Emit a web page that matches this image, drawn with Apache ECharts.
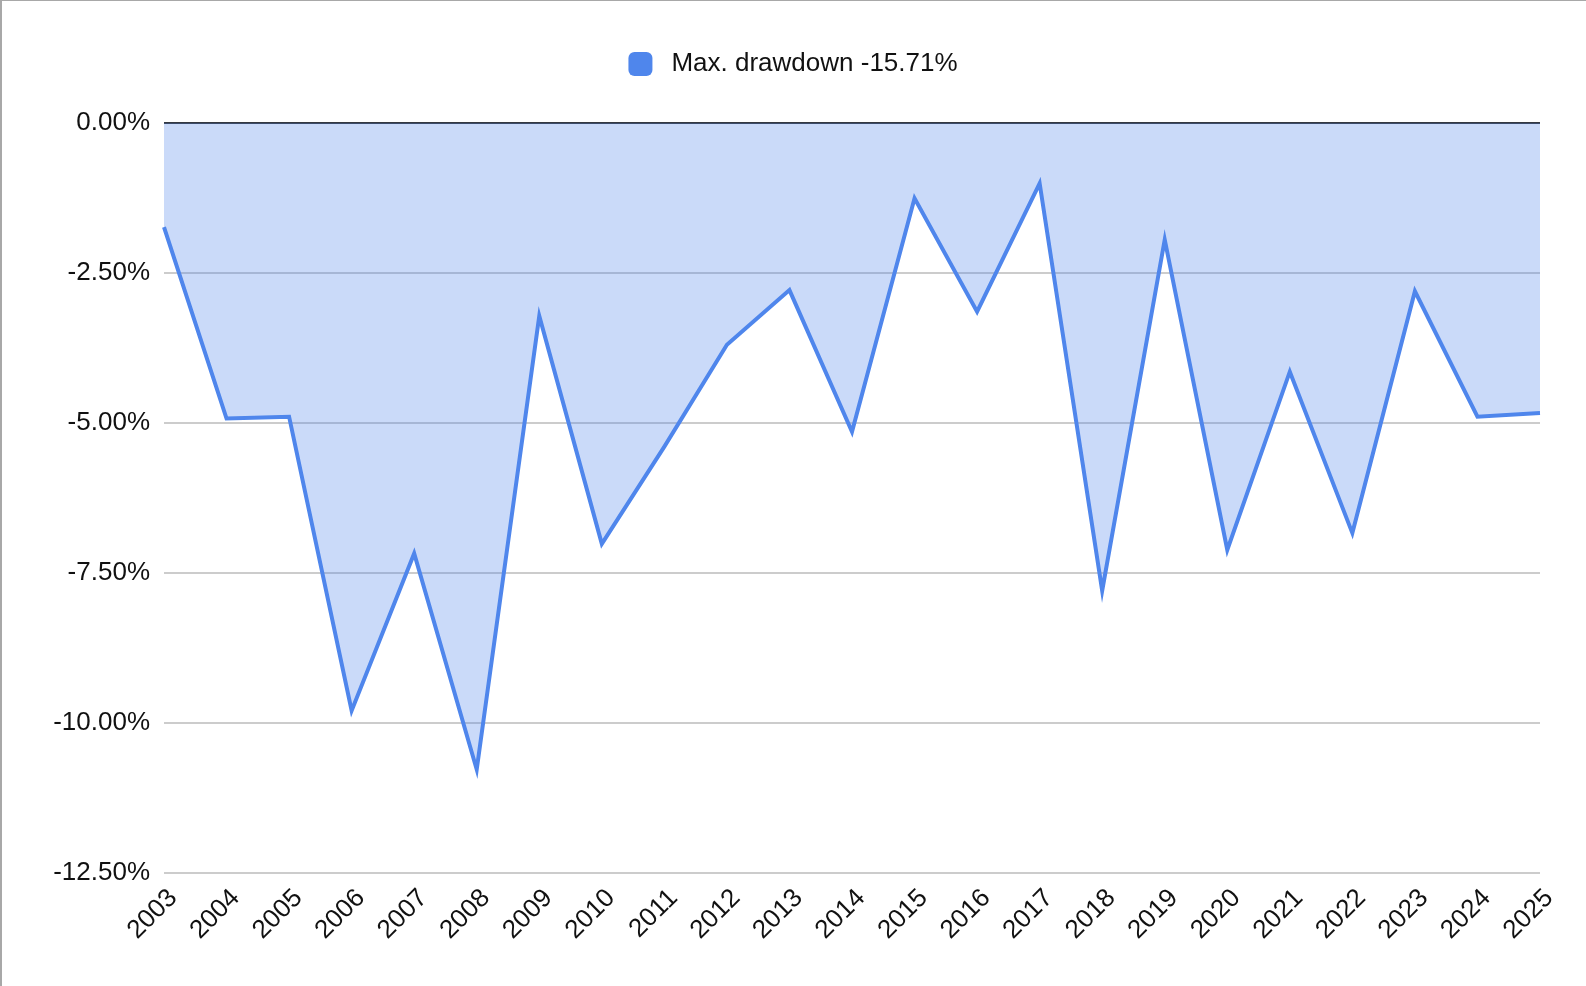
<!DOCTYPE html>
<html>
<head>
<meta charset="utf-8">
<script src="https://cdn.jsdelivr.net/npm/echarts@6/dist/echarts.min.js"></script>
<style>
  html, body { margin: 0; padding: 0; background: #fff; }
  #frame { position: absolute; left: 0; top: 0; width: 1586px; height: 986px; box-sizing: border-box; border-left: 2px solid #a8a8a8; border-top: 1px solid #a8a8a8; }
  #chart { position: absolute; left: 0; top: 0; width: 1586px; height: 986px; }
</style>
</head>
<body>
<div id="frame"></div>
<div id="chart"></div>
<script>
const years = ['2003','2004','2005','2006','2007','2008','2009','2010','2011','2012','2013','2014','2015','2016','2017','2018','2019','2020','2021','2022','2023','2024','2025'];
const drawdown = [-1.74,-4.93,-4.90,-9.80,-7.18,-10.78,-3.22,-7.02,-5.40,-3.70,-2.79,-5.15,-1.26,-3.15,-1.01,-7.80,-1.95,-7.12,-4.15,-6.84,-2.81,-4.90,-4.84];
const seriesName = 'Max. drawdown -15.71%';
const yTicks = { min: -12.5, max: 0, interval: 2.5 };

const chart = echarts.init(document.getElementById('chart'), null, { renderer: 'canvas' });
const font = 'Liberation Sans, Arial, Helvetica, sans-serif';
const blue = '#4f86ec';
const ink = '#111111';
chart.setOption({
  animation: false,
  backgroundColor: 'transparent',
  textStyle: { fontFamily: font },
  legend: {
    top: 46,
    left: 'center',
    icon: 'roundRect',
    itemWidth: 24,
    itemHeight: 24,
    textStyle: { fontSize: 26, color: ink, fontFamily: font, padding: [0, 0, 0, 14] },
    data: [{ name: seriesName, itemStyle: { color: blue } }]
  },
  grid: { left: 164, right: 46, top: 122.7, bottom: 113.3, containLabel: false },
  xAxis: {
    type: 'category',
    data: years,
    boundaryGap: false,
    axisLine: { show: false },
    axisTick: { show: false },
    splitLine: { show: false },
    axisLabel: { rotate: 45, fontSize: 26, color: ink, margin: 12, fontFamily: font, interval: 0, verticalAlign: 'top' }
  },
  yAxis: {
    type: 'value',
    min: yTicks.min,
    max: yTicks.max,
    interval: yTicks.interval,
    axisLine: { show: false },
    axisTick: { show: false },
    axisLabel: {
      fontSize: 26, color: ink, margin: 14, fontFamily: font,
      formatter: v => v.toFixed(2) + '%'
    },
    splitLine: {
      show: true,
      lineStyle: { color: ['#cccccc','#cccccc','#cccccc','#cccccc','#cccccc','#333333'], width: 2 }
    }
  },
  series: [{
    name: seriesName,
    type: 'line',
    data: drawdown,
    symbol: 'none',
    lineStyle: { color: blue, width: 4, join: 'miter' },
    itemStyle: { color: blue },
    areaStyle: { color: blue, opacity: 0.3 }
  }]
});
</script>
</body>
</html>
